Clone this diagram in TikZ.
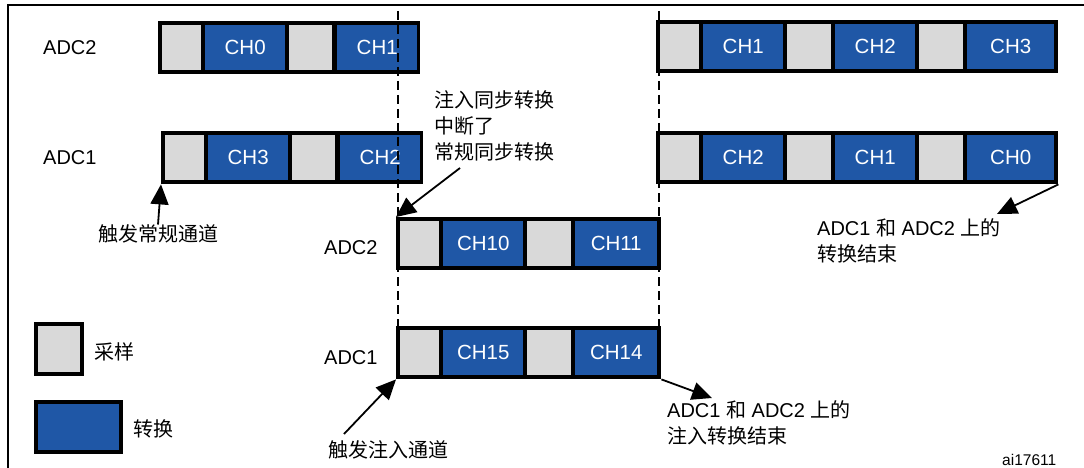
\documentclass[tikz,border=0pt]{standalone}
\usepackage{fontspec}
\setmainfont{Liberation Sans}
\newfontfamily\cjk{Noto Sans CJK SC}
\usetikzlibrary{arrows.meta}
\definecolor{sampgray}{RGB}{217,217,217}
\definecolor{convblue}{RGB}{31,87,166}
\tikzset{
	bar/.style={fill=black, inner sep=0pt, anchor=north west, minimum height=53pt},
	samp/.style={fill=sampgray, inner sep=0pt, anchor=north west, minimum height=45pt},
	conv/.style={fill=convblue, text=white, inner sep=0pt, anchor=north west, minimum height=45pt, font=\fontsize{20.5}{24}\selectfont},
	lbl/.style={anchor=west, inner sep=0pt, font=\fontsize{20}{24}\selectfont},
	note/.style={anchor=west, inner sep=0pt, align=left, font=\fontsize{20}{26}\selectfont},
	arr/.style={line width=1.8pt, -{Triangle[length=20pt,width=18pt]}},
	sync/.style={line width=2pt, dash pattern=on 9pt off 5pt}
}

\begin{document}
\begin{tikzpicture}[x=1pt, y=-1pt]
			%%%%% START %%%%%
			\useasboundingbox (0,0) rectangle (1084,468);
			
			\draw[line width=1.8pt] (1084,5) -- (8,5) -- (8,468);
			
			\node[lbl] (lbl-a2) at (43,48) {ADC2};
			\node[lbl] (lbl-a1) at (43,158) {ADC1};
			\node[lbl] (lbl-b2) at (324,248) {ADC2};
			\node[lbl] (lbl-b1) at (324,358) {ADC1};
			
			\node[bar, minimum width=262pt] (adc2a) at (158,21) {};
			\node[samp, minimum width=39pt] (adc2a-s1) at (162,25) {};
			\node[conv, minimum width=80pt] (adc2a-c1) at (205,25) {CH0};
			\node[samp, minimum width=43pt] (adc2a-s2) at (289,25) {};
			\node[conv, minimum width=80pt] (adc2a-c2) at (337,25) {CH1};
			
			\node[bar, minimum width=262pt] (adc1a) at (161,131) {};
			\node[samp, minimum width=39pt] (adc1a-s1) at (165,135) {};
			\node[conv, minimum width=80pt] (adc1a-c1) at (208,135) {CH3};
			\node[samp, minimum width=43pt] (adc1a-s2) at (292,135) {};
			\node[conv, minimum width=80pt] (adc1a-c2) at (340,135) {CH2};
			
			\node[bar, minimum width=265pt] (adc2b) at (396,217) {};
			\node[samp, minimum width=39pt] (adc2b-s1) at (400,221) {};
			\node[conv, minimum width=80pt] (adc2b-c1) at (443,221) {CH10};
			\node[samp, minimum width=44pt] (adc2b-s2) at (527,221) {};
			\node[conv, minimum width=82pt] (adc2b-c2) at (575,221) {CH11};
			
			\node[bar, minimum width=265pt] (adc1b) at (396,326) {};
			\node[samp, minimum width=39pt] (adc1b-s1) at (400,330) {};
			\node[conv, minimum width=80pt] (adc1b-c1) at (443,330) {CH15};
			\node[samp, minimum width=44pt] (adc1b-s2) at (527,330) {};
			\node[conv, minimum width=82pt] (adc1b-c2) at (575,330) {CH14};
			
			\node[bar, minimum width=402pt] (adc2c) at (656,20) {};
			\node[samp, minimum width=39pt] (adc2c-s1) at (660,24) {};
			\node[conv, minimum width=80pt] (adc2c-c1) at (703,24) {CH1};
			\node[samp, minimum width=44pt] (adc2c-s2) at (787,24) {};
			\node[conv, minimum width=80pt] (adc2c-c2) at (835,24) {CH2};
			\node[samp, minimum width=44pt] (adc2c-s3) at (919,24) {};
			\node[conv, minimum width=87pt] (adc2c-c3) at (967,24) {CH3};
			
			\node[bar, minimum width=402pt] (adc1c) at (656,131) {};
			\node[samp, minimum width=39pt] (adc1c-s1) at (660,135) {};
			\node[conv, minimum width=80pt] (adc1c-c1) at (703,135) {CH2};
			\node[samp, minimum width=44pt] (adc1c-s2) at (787,135) {};
			\node[conv, minimum width=80pt] (adc1c-c2) at (835,135) {CH1};
			\node[samp, minimum width=44pt] (adc1c-s3) at (919,135) {};
			\node[conv, minimum width=87pt] (adc1c-c3) at (967,135) {CH0};
			
			\draw[sync] (398,11) -- (398,326);
			\draw[sync] (658.5,11) -- (658.5,326);
			
			% legend
			\node[samp, draw=black, line width=4pt, minimum width=46pt, minimum height=50pt, anchor=center] (leg-s) at (59,349) {};
			\node[lbl] (leg-s-t) at (94,352) {\cjk 采样};
			\node[conv, draw=black, line width=4pt, minimum width=85pt, minimum height=50pt, anchor=center] (leg-c) at (78.5,427) {};
			\node[lbl] (leg-c-t) at (133,429) {\cjk 转换};
			
			% notes and arrows
			\node[lbl, anchor=center] (trigreg) at (158,234) {\cjk 触发常规通道};
			\draw[arr] (trigreg.north) -- (adc1a.south west);
			
			\node[note] (intr) at (434,126) {{\cjk 注入同步转换}\\{\cjk 中断了}\\{\cjk 常规同步转换}};
			\coordinate (intr-t) at (460,168);
			\draw[arr] (intr-t) -- (adc2b.north west);
			
			\node[note] (endreg) at (817,241) {ADC1 {\cjk 和} ADC2 {\cjk 上的}\\{\cjk 转换结束}};
			\coordinate (endreg-t) at (997,214);
			\draw[arr] (adc1c.south east) -- (endreg-t);
			
			\node[note] (endinj) at (667,423) {ADC1 {\cjk 和} ADC2 {\cjk 上的}\\{\cjk 注入转换结束}};
			\coordinate (endinj-t) at (712,398);
			\draw[arr] (adc1b.south east) -- (endinj-t);
			
			\node[lbl, anchor=center] (triginj) at (388,450) {\cjk 触发注入通道};
			\coordinate (triginj-t) at (344,434);
			\draw[arr] (triginj-t) -- (adc1b.south west);
			
			\node[lbl, font=\fontsize{15.5}{18}\selectfont] (fig-id) at (1002,460) {ai17611};
			%%%%% END %%%%%
\end{tikzpicture}
\end{document}
